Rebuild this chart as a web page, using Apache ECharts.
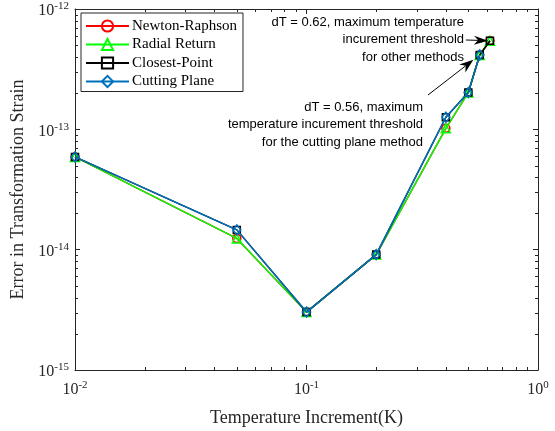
<!DOCTYPE html>
<html><head><meta charset="utf-8">
<script src="https://cdn.jsdelivr.net/npm/echarts@6/dist/echarts.min.js"></script>
<style>html,body{margin:0;padding:0;background:#fff}#c{width:555px;height:431px}</style>
</head><body><div id="c"></div>
<script>
const temperatureIncrement = [0.01, 0.05, 0.1, 0.2, 0.4, 0.5, 0.56, 0.62];
const newtonRaphson = [5.9e-14, 1.24e-14, 3.03e-15, 9.1e-15, 1.02e-13, 2.02e-13, 4.15e-13, 5.45e-13];
const radialReturn  = [5.9e-14, 1.24e-14, 3.03e-15, 9.1e-15, 1.02e-13, 2.02e-13, 4.15e-13, 5.45e-13];
const closestPoint  = [5.9e-14, 1.46e-14, 3.03e-15, 9.1e-15, 1.26e-13, 2.02e-13, 4.15e-13, 5.45e-13];
const cuttingPlaneX = [0.01, 0.05, 0.1, 0.2, 0.4, 0.5, 0.56];
const cuttingPlane  = [5.9e-14, 1.46e-14, 3.03e-15, 9.1e-15, 1.26e-13, 2.02e-13, 4.15e-13];
const seriesNames = ['Newton-Raphson', 'Radial Return', 'Closest-Point', 'Cutting Plane'];
const xTickExponents = [-2, -1, 0];
const yTickExponents = [-15, -14, -13, -12];
const annotation1 = ['dT = 0.62, maximum temperature', 'incurement threshold', 'for other methods'];
const annotation2 = ['dT = 0.56, maximum', 'temperature incurement threshold', 'for the cutting plane method'];

const AX = '#262626';
const SERIF = '"Liberation Serif","Times New Roman",serif';
const SANS = '"Liberation Sans",Arial,sans-serif';
const xMin = Math.pow(10, xTickExponents[0]), xMax = Math.pow(10, xTickExponents[xTickExponents.length - 1]);
const yMin = Math.pow(10, yTickExponents[0]), yMax = Math.pow(10, yTickExponents[yTickExponents.length - 1]);

function zip(xs, ys) { return xs.map((x, i) => [x, ys[i]]); }
function minorValues(e0, e1) { const out = []; for (let e = e0; e < e1; e++) for (let k = 2; k <= 9; k++) out.push(k * Math.pow(10, e)); return out; }
const minorData = minorValues(xTickExponents[0], xTickExponents[xTickExponents.length - 1]).map(v => [v, yMin, 0])
  .concat(minorValues(yTickExponents[0], yTickExponents[yTickExponents.length - 1]).map(v => [xMin, v, 1]));

const labelRich = {
  b: { fontSize: 16, fontFamily: SERIF, color: AX, padding: [4, 0, 0, 0], lineHeight: 16 },
  s: { fontSize: 11, fontFamily: SERIF, color: AX, verticalAlign: 'top', lineHeight: 11 }
};
function expFmt(v) { return '{b|10}{s|' + Math.round(Math.log10(v)) + '}'; }

const chart = echarts.init(document.getElementById('c'), null, { renderer: 'canvas' });
const colors = ['#ff0000', '#00ff00', '#000000', '#0072bd'];
const symbols = ['circle', 'triangle', 'rect', 'diamond'];
const symSizes = [8, 9, 7, [8, 10]];
const datas = [zip(temperatureIncrement, newtonRaphson), zip(temperatureIncrement, radialReturn), zip(temperatureIncrement, closestPoint), zip(cuttingPlaneX, cuttingPlane)];

const series = seriesNames.map((n, i) => ({
  name: n, type: 'line', data: datas[i], xAxisIndex: 0, yAxisIndex: 0,
  color: colors[i], symbol: symbols[i], symbolSize: symSizes[i], showSymbol: true,
  lineStyle: { color: colors[i], width: 1.5 },
  itemStyle: { color: 'rgba(255,255,255,0)', borderColor: colors[i], borderWidth: 1.5 },
  z: 3 + i, animation: false
}));
series.push({
  type: 'custom', silent: true, z: 2, clip: false, data: minorData, encode: { x: 0, y: 1 },
  renderItem(params, api) {
    const p = api.coord([api.value(0), api.value(1)]);
    const cs = params.coordSys; const L = 3; const st = { stroke: AX, lineWidth: 1 };
    if (api.value(2) === 0) {
      const x = Math.round(p[0]) + 0.5;
      return { type: 'group', children: [
        { type: 'line', shape: { x1: x, y1: cs.y + cs.height, x2: x, y2: cs.y + cs.height - L }, style: st },
        { type: 'line', shape: { x1: x, y1: cs.y, x2: x, y2: cs.y + L }, style: st }] };
    }
    const y = Math.round(p[1]) + 0.5;
    return { type: 'group', children: [
      { type: 'line', shape: { x1: cs.x, y1: y, x2: cs.x + L, y2: y }, style: st },
      { type: 'line', shape: { x1: cs.x + cs.width, y1: y, x2: cs.x + cs.width - L, y2: y }, style: st }] };
  }
});

const baseAxis = {
  type: 'log', logBase: 10,
  axisLine: { show: true, lineStyle: { color: AX, width: 1 } },
  axisTick: { show: true, inside: true, length: 5, lineStyle: { color: AX } },
  splitLine: { show: false }, minorTick: { show: false }, minorSplitLine: { show: false }
};

chart.setOption({
  animation: false,
  backgroundColor: '#fff',
  grid: { left: 75, right: 17, top: 9, bottom: 61, containLabel: false, outerBoundsMode: 'none' },
  legend: {
    data: seriesNames, orient: 'vertical', left: 81, top: 13,
    padding: [5, 6, 2, 4], itemGap: 2.5, itemWidth: 43, itemHeight: 14,
    borderColor: AX, borderWidth: 1, backgroundColor: '#fff',
    textStyle: { fontFamily: SERIF, fontSize: 15, color: '#000', lineHeight: 16, padding: [0, 0, 0, -2] },
    selectedMode: false, z: 20
  },
  xAxis: [
    Object.assign({}, baseAxis, {
      min: xMin, max: xMax, position: 'bottom',
      axisLabel: { show: true, margin: 10, formatter: expFmt, rich: labelRich },
      name: 'Temperature Increment(K)', nameLocation: 'middle', nameGap: 39,
      nameTextStyle: { fontFamily: SERIF, fontSize: 18, color: AX }
    }),
    Object.assign({}, baseAxis, { min: xMin, max: xMax, position: 'top', axisLabel: { show: false } })
  ],
  yAxis: [
    Object.assign({}, baseAxis, {
      min: yMin, max: yMax, position: 'left',
      axisLabel: { show: true, margin: 6, formatter: expFmt, rich: labelRich },
      name: 'Error in Transformation Strain', nameLocation: 'middle', nameGap: 34,
      nameTextStyle: { fontFamily: SERIF, fontSize: 18, color: AX }
    }),
    Object.assign({}, baseAxis, { min: yMin, max: yMax, position: 'right', axisLabel: { show: false } })
  ],
  series: series
});

function arrow(tail, tip, len, hw) {
  const dx = tip[0] - tail[0], dy = tip[1] - tail[1];
  const d = Math.hypot(dx, dy); const ux = dx / d, uy = dy / d; const nx = -uy, ny = ux;
  const bx = tip[0] - ux * len, by = tip[1] - uy * len;
  const notch = [tip[0] - ux * len * 0.7, tip[1] - uy * len * 0.7];
  return [
    { type: 'line', shape: { x1: tail[0], y1: tail[1], x2: notch[0], y2: notch[1] }, style: { stroke: '#000', lineWidth: 1 }, z: 30 },
    { type: 'polygon', shape: { points: [tip, [bx + nx * hw, by + ny * hw], notch, [bx - nx * hw, by - ny * hw]] }, style: { fill: '#000' }, z: 30 }
  ];
}
function textBlock(lines, right, top, lh) {
  return lines.map((t, i) => ({ type: 'text', x: right, y: top + i * lh, z: 30,
    style: { text: t, font: '13px ' + SANS, fill: '#000', align: 'right', verticalAlign: 'middle' } }));
}
const p8 = chart.convertToPixel({ gridIndex: 0 }, [temperatureIncrement[7], closestPoint[7]]);
const p7 = chart.convertToPixel({ gridIndex: 0 }, [cuttingPlaneX[6], cuttingPlane[6]]);
const tail1 = [466, 40], tail2 = [428, 95];
function tipBefore(tail, pt, gap) { const dx = pt[0] - tail[0], dy = pt[1] - tail[1]; const d = Math.hypot(dx, dy); return [pt[0] - dx / d * gap, pt[1] - dy / d * gap]; }
const graphics = []
  .concat(textBlock(annotation1, 464, 22, 17.5))
  .concat(textBlock(annotation2, 423, 107, 17.5))
  .concat(arrow(tail1, tipBefore(tail1, p8, 2), 14, 4.5))
  .concat(arrow(tail2, tipBefore(tail2, p7, 8), 14, 5));
chart.setOption({ graphic: graphics });
</script></body></html>
